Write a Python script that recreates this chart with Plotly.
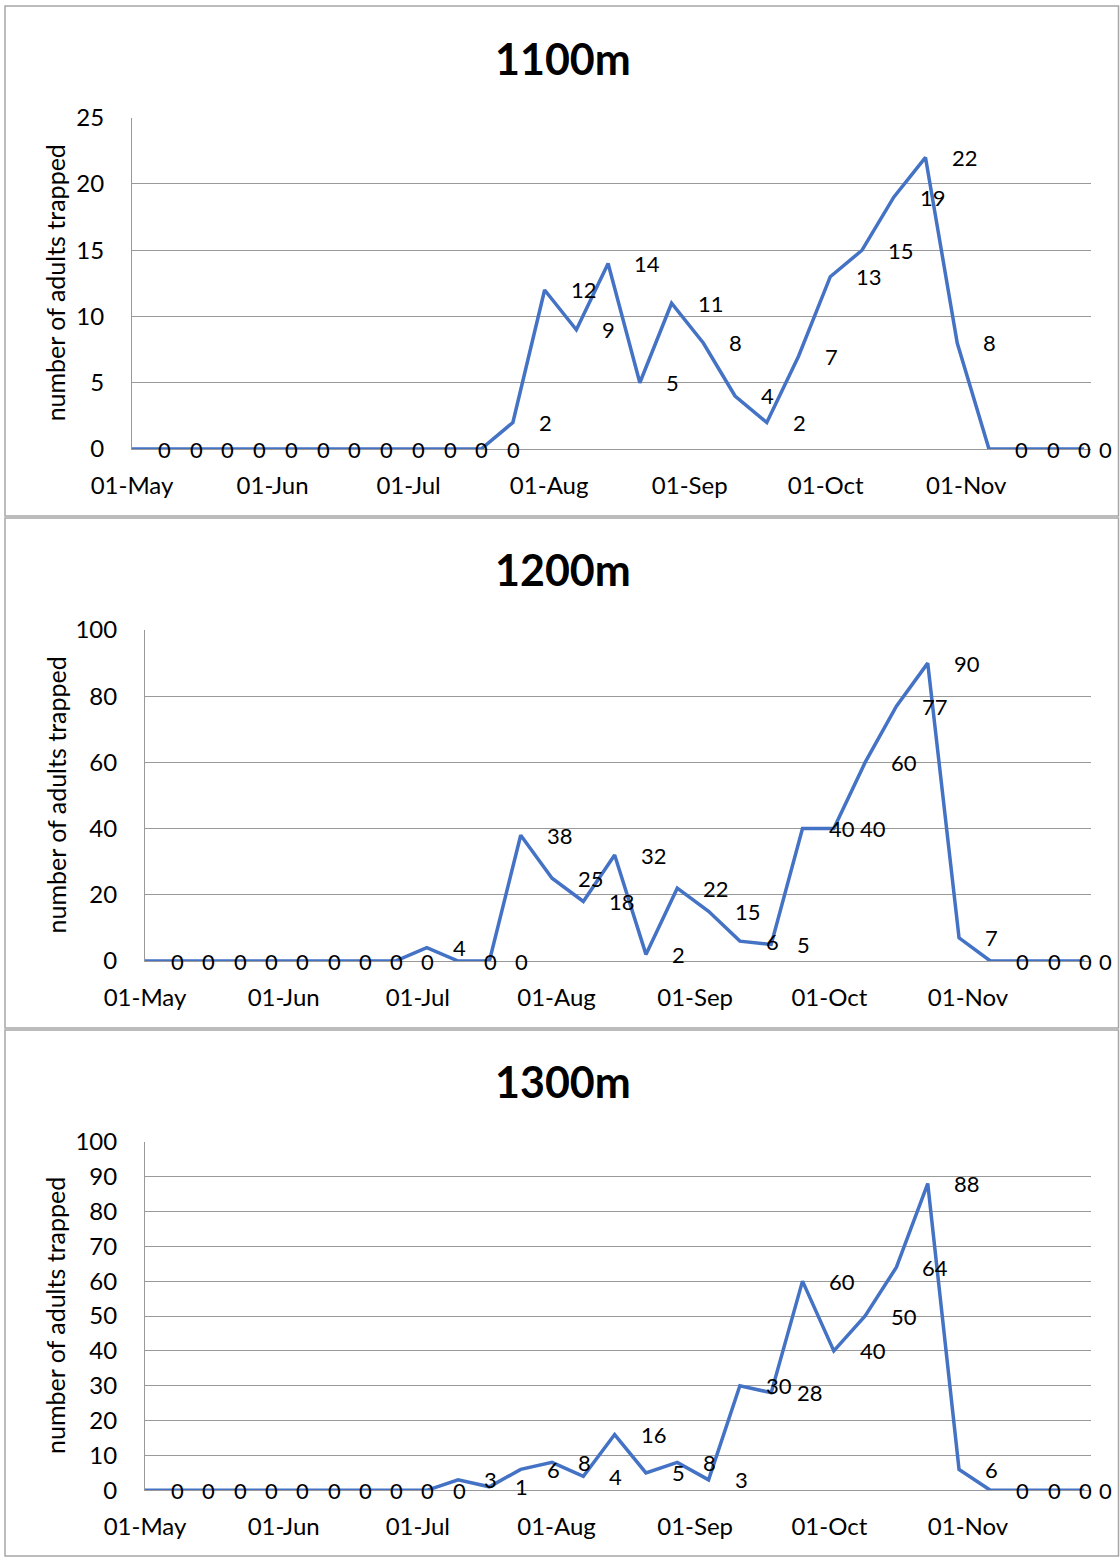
import plotly.graph_objects as go

# Weekly trap-check dates (shared by all three elevations)
dates = [
    "2019-05-01", "2019-05-08", "2019-05-15", "2019-05-22", "2019-05-29",
    "2019-06-05", "2019-06-12", "2019-06-19", "2019-06-26",
    "2019-07-03", "2019-07-10", "2019-07-17", "2019-07-24", "2019-07-31",
    "2019-08-07", "2019-08-14", "2019-08-21", "2019-08-28",
    "2019-09-04", "2019-09-11", "2019-09-18", "2019-09-25",
    "2019-10-02", "2019-10-09", "2019-10-16", "2019-10-23", "2019-10-30",
    "2019-11-06", "2019-11-13", "2019-11-20", "2019-11-27",
]

# Adults trapped per check, by elevation
adults_1100m = [0, 0, 0, 0, 0, 0, 0, 0, 0, 0, 0, 0, 2, 12, 9, 14, 5, 11, 8, 4,
                2, 7, 13, 15, 19, 22, 8, 0, 0, 0, 0]
adults_1200m = [0, 0, 0, 0, 0, 0, 0, 0, 0, 4, 0, 0, 38, 25, 18, 32, 2, 22, 15, 6,
                5, 40, 40, 60, 77, 90, 7, 0, 0, 0, 0]
adults_1300m = [0, 0, 0, 0, 0, 0, 0, 0, 0, 0, 3, 1, 6, 8, 4, 16, 5, 8, 3, 30,
                28, 60, 40, 50, 64, 88, 6, 0, 0, 0, 0]

panel_titles = ["1100m", "1200m", "1300m"]
series = [adults_1100m, adults_1200m, adults_1300m]
y_max = [25, 100, 100]
y_step = [5, 20, 10]
y_title = "number of adults trapped"

W, H = 1120, 1558
FONT = "Lato"
LINE_BLUE = "#4472C4"
GRID = "#999999"
BORDER = "#a6a6a6"

# Pixel layout of each chart block: (plot left, plot top, plot bottom, box top, box bottom)
blocks = [
    (132, 117.7, 449.0, 6, 516),
    (145, 630.0, 961.0, 518, 1028),
    (145, 1141.7, 1490.3, 1030, 1556),
]
plot_right = 1091
title_y_px = [58, 569.5, 1081.7]

fig = go.Figure()
annotations = []
shapes = []

for i, (vals, name) in enumerate(zip(series, panel_titles)):
    k = "" if i == 0 else str(i + 1)
    left, top, bottom, btop, bbot = blocks[i]

    fig.add_trace(go.Scatter(
        x=dates, y=vals, mode="lines",
        line=dict(color=LINE_BLUE, width=3.5),
        xaxis="x" + k, yaxis="y" + k, showlegend=False, hoverinfo="skip",
    ))

    fig.layout["xaxis" + k] = dict(
        domain=[left / W, plot_right / W], anchor="y" + k, type="date",
        range=["2019-05-01", "2019-11-28 12:00"],
        tickmode="linear", tick0="2019-05-01", dtick="M1", tickformat="%d-%b",
        showgrid=False, zeroline=False, showline=True, linecolor=GRID, linewidth=1,
        ticks="", ticklabelstandoff=15, automargin=False,
        tickfont=dict(family=FONT, size=24, color="#000000"),
    )
    fig.layout["yaxis" + k] = dict(
        domain=[1 - bottom / H, 1 - top / H], anchor="x" + k,
        range=[0, y_max[i]], tickmode="linear", tick0=0, dtick=y_step[i],
        showgrid=True, gridcolor=GRID, gridwidth=1,
        zeroline=False, showline=True, linecolor=GRID, linewidth=1,
        ticks="", ticklabelstandoff=22, automargin=False,
        tickfont=dict(family=FONT, size=24, color="#000000"),
    )

    # value labels to the right of each point
    n = len(vals)
    for j, (d, v) in enumerate(zip(dates, vals)):
        annotations.append(dict(
            x=d, y=v, xref="x" + k, yref="y" + k, text=str(v),
            showarrow=False, xanchor="left", yanchor="middle",
            xshift=24 if j < n - 1 else 13,
            font=dict(family=FONT, size=22, color="#000000"),
        ))

    # chart title
    annotations.append(dict(
        x=563 / W, y=1 - title_y_px[i] / H, xref="paper", yref="paper",
        text="<b>" + name + "</b>", showarrow=False,
        xanchor="center", yanchor="middle",
        font=dict(family=FONT, size=43, color="#000000"),
    ))
    # vertical axis title
    annotations.append(dict(
        x=55 / W, y=1 - (top + bottom) / 2 / H, xref="paper", yref="paper",
        text=y_title, showarrow=False, textangle=-90,
        xanchor="center", yanchor="middle",
        font=dict(family=FONT, size=25, color="#000000"),
    ))

    # outer chart frame
    shapes.append(dict(
        type="rect", xref="paper", yref="paper",
        x0=5 / W, x1=1118.5 / W, y0=1 - bbot / H, y1=1 - btop / H,
        line=dict(color=BORDER, width=1.5), fillcolor="rgba(0,0,0,0)",
        layer="below",
    ))

fig.update_layout(
    width=W, height=H, autosize=False,
    margin=dict(l=0, r=0, t=0, b=0, autoexpand=False),
    paper_bgcolor="white", plot_bgcolor="white",
    annotations=annotations, shapes=shapes,
    font=dict(family=FONT, color="#000000"),
)

fig.write_html("out.html")
